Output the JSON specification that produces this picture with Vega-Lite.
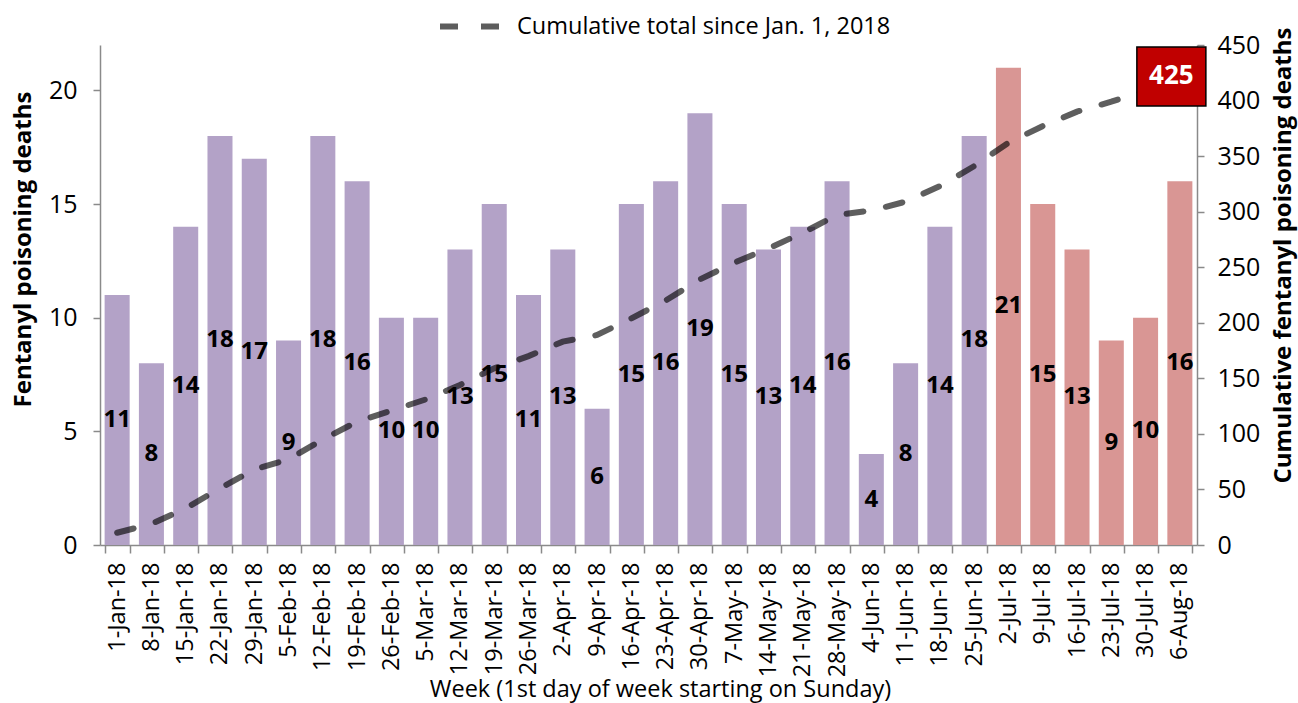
{
  "$schema": "https://vega.github.io/schema/vega-lite/v6.json",
  "width": 1097,
  "height": 500,
  "autosize": "none",
  "padding": {"left": 100, "top": 45, "right": 101, "bottom": 158},
  "background": "white",
  "config": {
    "font": "Open Sans",
    "view": {"stroke": null},
    "axis": {
      "grid": false,
      "domainColor": "#8a8a8a",
      "tickColor": "#8a8a8a",
      "domainWidth": 1.5,
      "tickWidth": 1.5,
      "tickSize": 7,
      "labelColor": "#000000",
      "titleColor": "#000000",
      "labelFontSize": 25,
      "titleFontSize": 24,
      "titleFontWeight": "bold",
      "labelFont": "Open Sans",
      "titleFont": "Open Sans"
    }
  },
  "data": {
    "values": [
      {"week": "1-Jan-18", "deaths": 11, "cumulative": 11, "group": "Jan-Jun"},
      {"week": "8-Jan-18", "deaths": 8, "cumulative": 19, "group": "Jan-Jun"},
      {"week": "15-Jan-18", "deaths": 14, "cumulative": 33, "group": "Jan-Jun"},
      {"week": "22-Jan-18", "deaths": 18, "cumulative": 51, "group": "Jan-Jun"},
      {"week": "29-Jan-18", "deaths": 17, "cumulative": 68, "group": "Jan-Jun"},
      {"week": "5-Feb-18", "deaths": 9, "cumulative": 77, "group": "Jan-Jun"},
      {"week": "12-Feb-18", "deaths": 18, "cumulative": 95, "group": "Jan-Jun"},
      {"week": "19-Feb-18", "deaths": 16, "cumulative": 111, "group": "Jan-Jun"},
      {"week": "26-Feb-18", "deaths": 10, "cumulative": 121, "group": "Jan-Jun"},
      {"week": "5-Mar-18", "deaths": 10, "cumulative": 131, "group": "Jan-Jun"},
      {"week": "12-Mar-18", "deaths": 13, "cumulative": 144, "group": "Jan-Jun"},
      {"week": "19-Mar-18", "deaths": 15, "cumulative": 159, "group": "Jan-Jun"},
      {"week": "26-Mar-18", "deaths": 11, "cumulative": 170, "group": "Jan-Jun"},
      {"week": "2-Apr-18", "deaths": 13, "cumulative": 183, "group": "Jan-Jun"},
      {"week": "9-Apr-18", "deaths": 6, "cumulative": 189, "group": "Jan-Jun"},
      {"week": "16-Apr-18", "deaths": 15, "cumulative": 204, "group": "Jan-Jun"},
      {"week": "23-Apr-18", "deaths": 16, "cumulative": 220, "group": "Jan-Jun"},
      {"week": "30-Apr-18", "deaths": 19, "cumulative": 239, "group": "Jan-Jun"},
      {"week": "7-May-18", "deaths": 15, "cumulative": 254, "group": "Jan-Jun"},
      {"week": "14-May-18", "deaths": 13, "cumulative": 267, "group": "Jan-Jun"},
      {"week": "21-May-18", "deaths": 14, "cumulative": 281, "group": "Jan-Jun"},
      {"week": "28-May-18", "deaths": 16, "cumulative": 297, "group": "Jan-Jun"},
      {"week": "4-Jun-18", "deaths": 4, "cumulative": 301, "group": "Jan-Jun"},
      {"week": "11-Jun-18", "deaths": 8, "cumulative": 309, "group": "Jan-Jun"},
      {"week": "18-Jun-18", "deaths": 14, "cumulative": 323, "group": "Jan-Jun"},
      {"week": "25-Jun-18", "deaths": 18, "cumulative": 341, "group": "Jan-Jun"},
      {"week": "2-Jul-18", "deaths": 21, "cumulative": 362, "group": "Jul-Aug"},
      {"week": "9-Jul-18", "deaths": 15, "cumulative": 377, "group": "Jul-Aug"},
      {"week": "16-Jul-18", "deaths": 13, "cumulative": 390, "group": "Jul-Aug"},
      {"week": "23-Jul-18", "deaths": 9, "cumulative": 399, "group": "Jul-Aug"},
      {"week": "30-Jul-18", "deaths": 10, "cumulative": 409, "group": "Jul-Aug"},
      {"week": "6-Aug-18", "deaths": 16, "cumulative": 425, "group": "Jul-Aug"}
    ]
  },
  "encoding": {
    "x": {
      "field": "week",
      "type": "ordinal",
      "sort": null,
      "scale": {"paddingInner": 0.27, "paddingOuter": 0.135},
      "axis": {
        "title": "Week (1st day of week starting on Sunday)",
        "titleFontWeight": "normal",
        "titleFontSize": 23.5,
        "titleX": 560,
        "titleY": 151,
        "titleBaseline": "alphabetic",
        "titleAnchor": null,
        "labelFontSize": 23.5,
        "labelAngle": -90,
        "labelAlign": "right",
        "labelBaseline": "middle",
        "labelPadding": 9,
        "tickBand": "extent",
        "tickSize": 8
      }
    }
  },
  "layer": [
    {
      "mark": {"type": "bar"},
      "encoding": {
        "y": {
          "field": "deaths",
          "type": "quantitative",
          "scale": {"domain": [0, 22], "nice": false},
          "axis": {
            "title": "Fentanyl poisoning deaths",
            "values": [0, 5, 10, 15, 20],
            "labelPadding": 16,
            "titleAngle": -90,
            "titleX": -77,
            "titleY": 204,
            "titleAlign": "center",
            "titleBaseline": "middle"
          }
        },
        "color": {
          "field": "group",
          "type": "nominal",
          "scale": {"domain": ["Jan-Jun", "Jul-Aug"], "range": ["#b3a2c7", "#d99694"]},
          "legend": null
        }
      }
    },
    {
      "mark": {"type": "text", "fontWeight": "bold", "fontSize": 24, "baseline": "middle", "align": "center", "color": "#000000"},
      "encoding": {
        "y": {"field": "deaths", "type": "quantitative", "scale": {"domain": [0, 44], "nice": false}, "axis": null},
        "text": {"field": "deaths", "type": "quantitative"}
      }
    },
    {
      "mark": {"type": "line", "strokeDash": [17, 23], "strokeWidth": 6, "strokeCap": "round", "opacity": 0.63},
      "encoding": {
        "y": {
          "field": "cumulative",
          "type": "quantitative",
          "scale": {"domain": [0, 450], "nice": false},
          "axis": {
            "orient": "right",
            "title": "Cumulative fentanyl poisoning deaths",
            "values": [0, 50, 100, 150, 200, 250, 300, 350, 400, 450],
            "labelPadding": 13,
            "titleAngle": -90,
            "titleX": 86,
            "titleY": 210,
            "titleAlign": "center",
            "titleBaseline": "middle"
          }
        },
        "stroke": {
          "datum": "Cumulative total since Jan. 1, 2018",
          "type": "nominal",
          "scale": {"range": ["#000000"]},
          "legend": {
            "title": null,
            "orient": "none",
            "legendX": 337,
            "legendY": -54,
            "padding": 0,
            "symbolType": "stroke",
            "symbolSize": 4225,
            "symbolStrokeWidth": 6,
            "symbolDash": [18, 23],
            "symbolOpacity": 0.63,
            "labelFontSize": 23.5,
            "labelColor": "#000000",
            "labelOffset": 9,
            "labelLimit": 0
          }
        }
      }
    },
    {
      "transform": [{"filter": "datum.week === '6-Aug-18'"}],
      "mark": {"type": "point", "shape": "M-1.433,-0.86L0.867,-0.86L0.867,1.107L-1.433,1.107Z", "size": 3600, "filled": true, "fill": "#c00000", "stroke": "#000000", "strokeWidth": 1.5, "opacity": 1},
      "encoding": {
        "y": {"field": "cumulative", "type": "quantitative", "scale": {"domain": [0, 450], "nice": false}, "axis": null}
      }
    },
    {
      "transform": [{"filter": "datum.week === '6-Aug-18'"}],
      "mark": {"type": "text", "color": "#ffffff", "fontWeight": "bold", "fontSize": 26, "dx": -8.5, "dy": 3.7, "baseline": "middle", "align": "center"},
      "encoding": {
        "y": {"field": "cumulative", "type": "quantitative", "scale": {"domain": [0, 450], "nice": false}, "axis": null},
        "text": {"field": "cumulative", "type": "quantitative"}
      }
    }
  ],
  "resolve": {"scale": {"y": "independent", "color": "independent"}}
}
